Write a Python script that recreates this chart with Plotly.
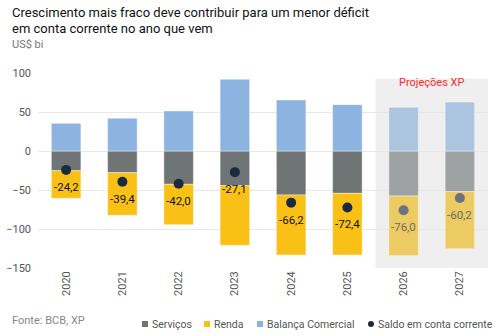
import plotly.graph_objects as go

years = ["2020", "2021", "2022", "2023", "2024", "2025", "2026", "2027"]
servicos = [-25.3, -27.8, -42.7, -44.4, -56.4, -54.3, -57.7, -52.1]
renda = [-35.3, -54.6, -51.7, -76.5, -76.9, -79.0, -76.5, -73.1]
balanca = [35.5, 41.9, 51.3, 91.9, 65.4, 59.4, 56.0, 62.8]
saldo = [-24.2, -39.4, -42.0, -27.1, -66.2, -72.4, -76.0, -60.2]
saldo_labels = ["-24,2", "-39,4", "-42,0", "-27,1", "-66,2", "-72,4", "-76,0", "-60,2"]
projected = [False, False, False, False, False, False, True, True]
series_names = ["Serviços", "Renda", "Balança Comercial", "Saldo em conta corrente"]
hist_colors = ["#6f7575", "#f9c116", "#8db3e0", "#1c2a40"]
proj_colors = ["#9ea2a2", "#eccb62", "#adc4e0", "#6b7380"]

def cols(i):
    return [proj_colors[i] if p else hist_colors[i] for p in projected]

FONT = "Roboto"
L, R, T, B = 38, 14, 73, 67
W, H = 502 - L - R, 335 - T - B

def px(xp):
    return (xp - L) / W

def py(yp):
    return (335 - B - yp) / H

fig = go.Figure()
for i, vals in enumerate([servicos, renda, balanca]):
    fig.add_trace(go.Bar(x=years, y=vals, name=series_names[i], showlegend=False,
                         marker=dict(color=cols(i), line=dict(width=0.6, color="rgba(255,255,255,0.7)")),
                         width=0.525))
fig.add_trace(go.Scatter(x=years, y=saldo, name=series_names[3], mode="markers",
                         showlegend=False, marker=dict(size=10, color=cols(3))))

shapes = [dict(type="rect", xref="x", yref="y", x0=5.5, x1=7.5, y0=-150, y1=93,
               fillcolor="#efefef", line=dict(width=0), layer="below")]

annotations = [
    dict(text="Projeções XP", x=6.5, y=88, xref="x", yref="y", showarrow=False,
         font=dict(size=11, color="#ff2a2a", family=FONT)),
]
for idx, (v, lab, p) in enumerate(zip(saldo, saldo_labels, projected)):
    annotations.append(dict(text=lab, x=idx, y=v, xref="x", yref="y", showarrow=False,
                            yshift=-17, xanchor="center", yanchor="middle",
                            font=dict(size=11.5, color="#6a6a6a" if p else "#111111", family=FONT)))
for txt, xp, yp, size, color in [
    ("Crescimento mais fraco deve contribuir para um menor déficit", 10, 12, 13, "#111111"),
    ("em conta corrente no ano que vem", 10, 29, 13, "#111111"),
    ("US$ bi", 10, 44, 11, "#777777"),
    ("Fonte: BCB, XP", 10, 320, 11, "#888888"),
]:
    annotations.append(dict(text=txt, x=px(xp), y=py(yp), xref="paper", yref="paper",
                            showarrow=False, xanchor="left", yanchor="middle",
                            font=dict(size=size, color=color, family=FONT)))

# legend (bottom row)
leg_sym_x = [145, 207, 260, 371]
leg_txt_x = [150, 212, 265, 376]
leg_y = 324
for i in range(4):
    cx = leg_sym_x[i]
    shapes.append(dict(type="circle" if i == 3 else "rect", xref="paper", yref="paper",
                       x0=px(cx - 3), x1=px(cx + 3), y0=py(leg_y + 3), y1=py(leg_y - 3),
                       fillcolor=hist_colors[i], line=dict(width=0)))
    annotations.append(dict(text=series_names[i], x=px(leg_txt_x[i]), y=py(leg_y),
                            xref="paper", yref="paper", showarrow=False,
                            xanchor="left", yanchor="middle",
                            font=dict(size=10.5, color="#555555", family=FONT)))

fig.update_layout(
    width=502, height=335,
    margin=dict(l=L, r=R, t=T, b=B, autoexpand=False),
    barmode="relative",
    plot_bgcolor="white", paper_bgcolor="white",
    font=dict(family=FONT, size=11, color="#555555"),
    annotations=annotations,
    shapes=shapes,
    showlegend=False,
    xaxis=dict(type="category", range=[-0.5, 7.5], tickangle=-90, showgrid=False, ticks="",
               tickfont=dict(size=11, color="#555555"), zeroline=False, showline=False,
               automargin=False),
    yaxis=dict(range=[-150, 100], tickvals=[-150, -100, -50, 0, 50, 100], showgrid=True,
               gridcolor="#e8e8e8", gridwidth=1, zeroline=False, ticks="",
               ticklabelstandoff=6,
               tickfont=dict(size=11, color="#555555"), automargin=False),
)

fig.write_html("out.html")
